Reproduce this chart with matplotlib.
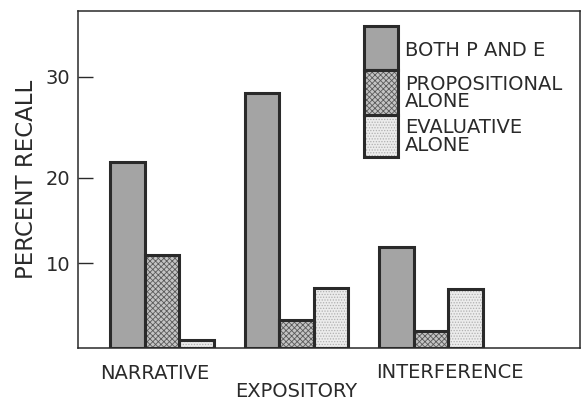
import matplotlib.pyplot as plt
import numpy as np
from matplotlib.patches import Rectangle

# data
categories = ['NARRATIVE', 'EXPOSITORY', 'INTERFERENCE']
both_pe = [21.6, 28.4, 11.9]
prop_alone = [10.9, 3.3, 2.0]
eval_alone = [1.0, 7.1, 7.0]
series_names = ['BOTH P AND E', 'PROPOSITIONAL\nALONE', 'EVALUATIVE\nALONE']
y_ticks = [10, 20, 30]

# the hand drawn axis is not evenly spaced: map value -> drawn distance
scale_vals = [-100, 0, 10, 20, 30, 100]
scale_pix = [-850, 0, 85, 170, 271, 978]


def fwd(v):
    return np.interp(v, scale_vals, scale_pix)


def inv(p):
    return np.interp(p, scale_pix, scale_vals)


plt.rcParams['font.family'] = ['DejaVu Sans']
plt.rcParams['hatch.linewidth'] = 0.6

ink = '#2a2a2a'
styles = [
    dict(fc='#a4a4a4', hatch=None, hc='#a4a4a4'),
    dict(fc='#c4c4c4', hatch='xxxxxx', hc='#5a5a5a'),
    dict(fc='#ececec', hatch='......', hc='#b0b0b0'),
]

fig = plt.figure(figsize=(5.83, 4.01), dpi=100)
ax = fig.add_axes([0.133, 0.132, 0.862, 0.840])
ax.set_yscale('function', functions=(fwd, inv))

x = np.arange(len(categories))
w = 0.256
for i, vals in enumerate([both_pe, prop_alone, eval_alone]):
    st = styles[i]
    xs = x + (i - 1) * w
    ax.bar(xs, vals, w, color=st['fc'], edgecolor=st['hc'], hatch=st['hatch'],
           linewidth=0, zorder=2)
    ax.bar(xs, vals, w, fill=False, edgecolor=ink, linewidth=2.2, zorder=3)

ax.set_xlim(-0.627, 3.108)
ax.set_ylim(0, 36.5)
ax.set_xticks([])
ax.set_yticks(y_ticks)
ax.set_yticklabels([str(t) for t in y_ticks])
ax.tick_params(axis='y', direction='in', length=11, width=1.0, pad=5,
               labelsize=14, colors=ink)
for s in ax.spines.values():
    s.set_linewidth(1.1)
    s.set_color(ink)

ax.set_ylabel('PERCENT RECALL', fontsize=16.5, color=ink, labelpad=6)

# category labels, staggered as in the original
label_x = [-0.05, 1.0, 2.14]
label_y = [-0.075, -0.13, -0.072]
for cx, cy, name in zip(label_x, label_y, categories):
    ax.text(cx, cy, name, transform=ax.get_xaxis_transform(), ha='center',
            va='center', fontsize=14, color=ink)

# stacked legend box
box_x0, box_x1 = 0.570, 0.638
box_y = [0.955, 0.825, 0.691, 0.567]
for i in range(3):
    st = styles[i]
    y0, y1 = box_y[i + 1], box_y[i]
    ax.add_patch(Rectangle((box_x0, y0), box_x1 - box_x0, y1 - y0,
                           transform=ax.transAxes, facecolor=st['fc'],
                           edgecolor=st['hc'], hatch=st['hatch'],
                           linewidth=0, zorder=2))
    ax.add_patch(Rectangle((box_x0, y0), box_x1 - box_x0, y1 - y0,
                           transform=ax.transAxes, fill=False,
                           edgecolor=ink, linewidth=2.2, zorder=3))

text_y = [0.884, 0.757, 0.629]
for ty, name in zip(text_y, series_names):
    ax.text(0.652, ty, name, transform=ax.transAxes, ha='left', va='center',
            fontsize=14, color=ink, linespacing=0.92)

fig.savefig('out.png', dpi=100)
